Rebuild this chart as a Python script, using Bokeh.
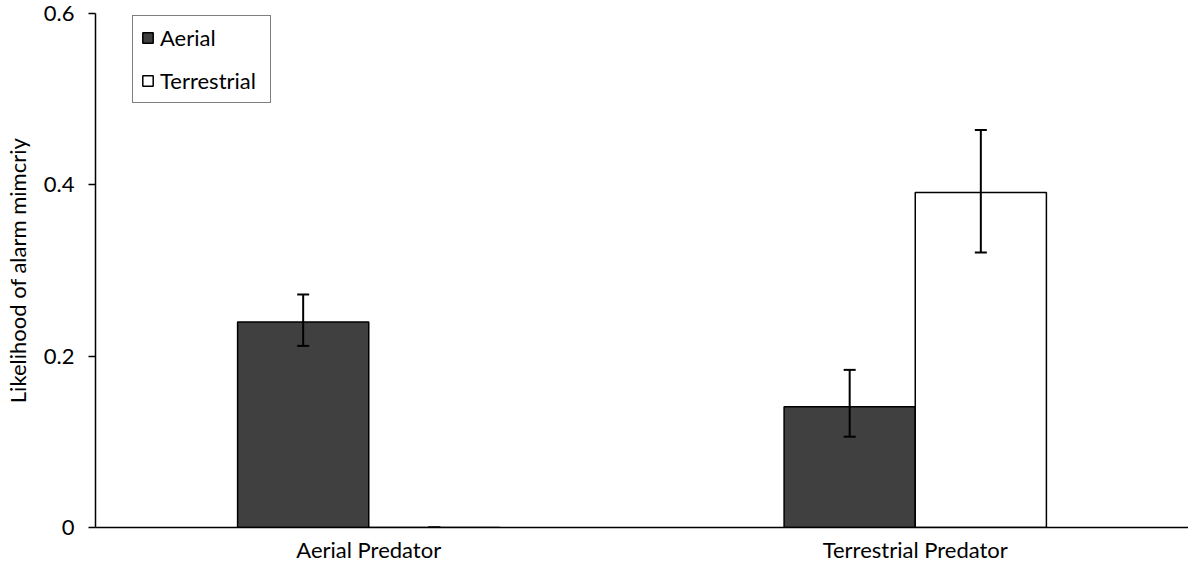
from bokeh.plotting import figure
from bokeh.models import (ColumnDataSource, FactorRange, Range1d, FixedTicker,
                          Whisker, TeeHead, Legend, LegendItem)
from bokeh.transform import dodge
from bokeh.embed import file_html
from bokeh.resources import INLINE

# ---- data ----
categories = ["Aerial Predator", "Terrestrial Predator"]
series_names = ["Aerial", "Terrestrial"]
aerial = [0.240, 0.141]
aerial_lower = [0.212, 0.106]
aerial_upper = [0.272, 0.184]
terrestrial = [0.0, 0.391]
terrestrial_lower = [0.0, 0.321]
terrestrial_upper = [0.0, 0.464]
y_ticks = [0, 0.2, 0.4, 0.6]
y_tick_labels = ["0", "0.2", "0.4", "0.6"]
y_title = "Likelihood of alarm mimcriy"

src = ColumnDataSource(dict(
    cat=categories,
    aerial=aerial, a_lo=aerial_lower, a_up=aerial_upper,
    terr=terrestrial, t_lo=terrestrial_lower, t_up=terrestrial_upper,
))

FONT = "Lato"
FS = "22px"

p = figure(x_range=FactorRange(*categories), y_range=Range1d(0, 0.6),
           width=1188, height=565, output_backend="svg", toolbar_location=None,
           min_border_left=90, min_border_right=0, min_border_top=13,
           min_border_bottom=35)
p.outline_line_color = None
p.xgrid.grid_line_color = None
p.ygrid.grid_line_color = None
p.background_fill_color = "white"
p.border_fill_color = "white"

BW = 0.24
r_a = p.vbar(x=dodge("cat", -BW / 2, range=p.x_range), top="aerial", width=BW,
             source=src, fill_color="#404040", line_color="black", line_width=1.5)
r_t = p.vbar(x=dodge("cat", BW / 2, range=p.x_range), top="terr", width=BW,
             source=src, fill_color="white", line_color="black", line_width=1.5)

for off, lo, up in [(-BW / 2, "a_lo", "a_up"), (BW / 2, "t_lo", "t_up")]:
    w = Whisker(source=src, base=dodge("cat", off, range=p.x_range), lower=lo, upper=up,
                line_color="black", line_width=2, level="overlay",
                lower_head=TeeHead(size=12, line_color="black", line_width=2),
                upper_head=TeeHead(size=12, line_color="black", line_width=2))
    p.add_layout(w)

# axes
ya = p.yaxis[0]
ya.ticker = FixedTicker(ticks=y_ticks)
ya.major_label_overrides = {t: l for t, l in zip(y_ticks, y_tick_labels)}
ya.major_tick_out = 7
ya.major_tick_in = 0
ya.minor_tick_out = 0
ya.minor_tick_in = 0
ya.axis_line_color = "black"
ya.axis_line_width = 1.5
ya.major_tick_line_color = "black"
ya.major_tick_line_width = 1.5
ya.major_label_standoff = 14
ya.major_label_text_font = FONT
ya.major_label_text_font_size = FS
ya.major_label_text_color = "black"
ya.axis_label = y_title
ya.axis_label_text_font = FONT
ya.axis_label_text_font_size = FS
ya.axis_label_text_font_style = "normal"
ya.axis_label_text_color = "black"
ya.axis_label_standoff = 10

xa = p.xaxis[0]
xa.major_tick_out = 0
xa.major_tick_in = 0
xa.minor_tick_out = 0
xa.minor_tick_in = 0
xa.axis_line_color = "black"
xa.axis_line_width = 1.5
xa.major_label_standoff = 8
xa.major_label_text_font = FONT
xa.major_label_text_font_size = FS
xa.major_label_text_color = "black"

legend = Legend(items=[LegendItem(label=series_names[0], renderers=[r_a]),
                       LegendItem(label=series_names[1], renderers=[r_t])],
                location=(37, 424), orientation="vertical",
                padding=8, spacing=16, margin=0,
                glyph_width=13, glyph_height=13, label_standoff=6, label_width=102,
                label_text_font=FONT, label_text_font_size=FS, label_text_color="black",
                border_line_color="black", border_line_width=1.2,
                background_fill_color="white", background_fill_alpha=1)
p.add_layout(legend)

open("out.html", "w").write(file_html(p, INLINE))
